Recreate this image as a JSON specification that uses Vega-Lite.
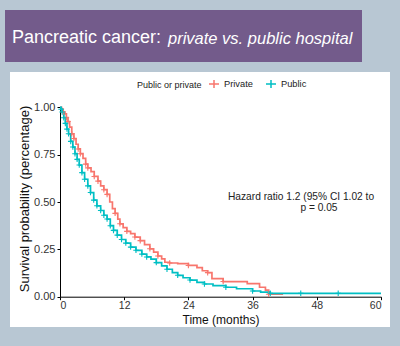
{
  "$schema": "https://vega.github.io/schema/vega-lite/v6.json",
  "background": "#b8c7d3",
  "padding": {"left": 0, "top": 10, "right": 0, "bottom": 9},
  "autosize": {"type": "pad"},
  "title": {"text": "private vs. public hospital", "anchor": "start", "frame": "group", "dx": 163, "offset": -37, "font": "Liberation Sans", "fontSize": 16.5, "fontStyle": "italic", "fontWeight": "normal", "color": "white"},
  "spacing": 0,
  "vconcat": [
    {
      "width": 357,
      "height": 52,
      "view": {"fill": "#735b8b", "stroke": null},
      "title": {"text": "Pancreatic cancer:", "anchor": "start", "frame": "group", "dx": 7, "offset": -37, "font": "Liberation Sans", "fontSize": 18, "fontWeight": "normal", "color": "white"},
      "data": {"values": []},
      "mark": "point"
    },
    {
      "width": 390,
      "height": 265,
      "view": {"fill": "white", "stroke": "#b8c7d3", "strokeWidth": 10},
      "layer": [
        {
          "data": {"name": "km"},
          "mark": {"type": "line", "interpolate": "step-after", "strokeWidth": 1.7},
          "encoding": {
            "x": {"field": "t", "type": "quantitative",
              "scale": {"domain": [0, 60], "range": [55, 376], "nice": false, "zero": false},
              "axis": {"values": [0, 12, 24, 36, 48, 60], "offset": -35.3, "title": "Time (months)", "titleFontSize": 12, "titlePadding": 3, "labelFontSize": 10.5, "labelPadding": 1}},
            "y": {"field": "s", "type": "quantitative",
              "scale": {"domain": [0, 1], "range": [229.7, 40.3], "nice": false, "zero": false},
              "axis": {"values": [0, 0.25, 0.5, 0.75, 1], "format": ".2f", "offset": -55, "title": "Survival probability (percentage)", "titleFontSize": 13, "titlePadding": 2, "titleY": 131.5}},
            "color": {"field": "g", "type": "nominal", "title": "Public or private",
              "scale": {"domain": ["Private", "Public"], "range": ["#F8766D", "#00BFC4"]}}
          }
        },
        {
          "data": {"name": "km"},
          "transform": [{"filter": "datum.c == 1"}],
          "mark": {"type": "point", "shape": "M-1,0L1,0M0,-1L0,1", "filled": false, "size": 30, "strokeWidth": 1.1, "opacity": 1},
          "encoding": {
            "x": {"field": "t", "type": "quantitative"},
            "y": {"field": "s", "type": "quantitative"},
            "color": {"field": "g", "type": "nominal", "title": "Public or private"}
          }
        },
        {
          "data": {"values": [{"label": "Hazard ratio 1.2 (95% CI 1.02 to 1.41)"}]},
          "mark": {"type": "text", "align": "left", "baseline": "alphabetic", "font": "Liberation Sans", "fontSize": 10.2, "fill": "#222", "limit": 153, "ellipsis": " "},
          "encoding": {
            "x": {"datum": 31.4, "type": "quantitative"},
            "y": {"datum": 0.511, "type": "quantitative"},
            "text": {"field": "label", "type": "nominal"}
          }
        },
        {
          "data": {"values": [{"label": "p = 0.05"}]},
          "mark": {"type": "text", "align": "center", "baseline": "alphabetic", "font": "Liberation Sans", "fontSize": 10.2, "fill": "#222"},
          "encoding": {
            "x": {"datum": 48.4, "type": "quantitative"},
            "y": {"datum": 0.45, "type": "quantitative"},
            "text": {"field": "label", "type": "nominal"}
          }
        }
      ]
    }
  ],
  "datasets": {
    "km": [
      {"g": "Private", "t": 0, "s": 1.0, "c": 0},
      {"g": "Private", "t": 0.3, "s": 0.99, "c": 0},
      {"g": "Private", "t": 0.6, "s": 0.975, "c": 1},
      {"g": "Private", "t": 0.9, "s": 0.965, "c": 0},
      {"g": "Private", "t": 1.2, "s": 0.945, "c": 1},
      {"g": "Private", "t": 1.5, "s": 0.925, "c": 1},
      {"g": "Private", "t": 1.8, "s": 0.895, "c": 0},
      {"g": "Private", "t": 2.2, "s": 0.86, "c": 1},
      {"g": "Private", "t": 2.6, "s": 0.835, "c": 1},
      {"g": "Private", "t": 3.0, "s": 0.805, "c": 0},
      {"g": "Private", "t": 3.4, "s": 0.78, "c": 1},
      {"g": "Private", "t": 3.8, "s": 0.755, "c": 1},
      {"g": "Private", "t": 4.3, "s": 0.73, "c": 0},
      {"g": "Private", "t": 4.8, "s": 0.7, "c": 1},
      {"g": "Private", "t": 5.2, "s": 0.68, "c": 1},
      {"g": "Private", "t": 5.8, "s": 0.66, "c": 0},
      {"g": "Private", "t": 6.4, "s": 0.635, "c": 1},
      {"g": "Private", "t": 7.1, "s": 0.61, "c": 1},
      {"g": "Private", "t": 7.6, "s": 0.585, "c": 0},
      {"g": "Private", "t": 8.2, "s": 0.565, "c": 1},
      {"g": "Private", "t": 8.8, "s": 0.54, "c": 1},
      {"g": "Private", "t": 9.3, "s": 0.5, "c": 0},
      {"g": "Private", "t": 9.8, "s": 0.465, "c": 0},
      {"g": "Private", "t": 10.3, "s": 0.44, "c": 1},
      {"g": "Private", "t": 10.8, "s": 0.41, "c": 0},
      {"g": "Private", "t": 11.2, "s": 0.385, "c": 1},
      {"g": "Private", "t": 11.8, "s": 0.365, "c": 0},
      {"g": "Private", "t": 12.5, "s": 0.345, "c": 1},
      {"g": "Private", "t": 13.2, "s": 0.333, "c": 0},
      {"g": "Private", "t": 14.0, "s": 0.315, "c": 1},
      {"g": "Private", "t": 15.0, "s": 0.296, "c": 1},
      {"g": "Private", "t": 15.8, "s": 0.275, "c": 0},
      {"g": "Private", "t": 16.8, "s": 0.253, "c": 1},
      {"g": "Private", "t": 17.5, "s": 0.235, "c": 0},
      {"g": "Private", "t": 18.3, "s": 0.215, "c": 1},
      {"g": "Private", "t": 19.0, "s": 0.2, "c": 0},
      {"g": "Private", "t": 19.6, "s": 0.182, "c": 0},
      {"g": "Private", "t": 20.5, "s": 0.178, "c": 1},
      {"g": "Private", "t": 22.0, "s": 0.175, "c": 0},
      {"g": "Private", "t": 24.0, "s": 0.165, "c": 1},
      {"g": "Private", "t": 25.6, "s": 0.153, "c": 0},
      {"g": "Private", "t": 26.6, "s": 0.137, "c": 0},
      {"g": "Private", "t": 27.6, "s": 0.127, "c": 1},
      {"g": "Private", "t": 28.4, "s": 0.095, "c": 0},
      {"g": "Private", "t": 30.5, "s": 0.08, "c": 1},
      {"g": "Private", "t": 35.0, "s": 0.069, "c": 0},
      {"g": "Private", "t": 37.3, "s": 0.05, "c": 0},
      {"g": "Private", "t": 38.4, "s": 0.035, "c": 0},
      {"g": "Private", "t": 39.0, "s": 0.013, "c": 1},
      {"g": "Private", "t": 41.7, "s": 0.013, "c": 0},
      {"g": "Public", "t": 0, "s": 1.0, "c": 0},
      {"g": "Public", "t": 0.2, "s": 0.99, "c": 1},
      {"g": "Public", "t": 0.4, "s": 0.975, "c": 1},
      {"g": "Public", "t": 0.7, "s": 0.945, "c": 1},
      {"g": "Public", "t": 1.0, "s": 0.915, "c": 1},
      {"g": "Public", "t": 1.3, "s": 0.885, "c": 1},
      {"g": "Public", "t": 1.6, "s": 0.86, "c": 1},
      {"g": "Public", "t": 2.0, "s": 0.82, "c": 1},
      {"g": "Public", "t": 2.4, "s": 0.79, "c": 1},
      {"g": "Public", "t": 2.8, "s": 0.755, "c": 1},
      {"g": "Public", "t": 3.2, "s": 0.725, "c": 1},
      {"g": "Public", "t": 3.6, "s": 0.695, "c": 1},
      {"g": "Public", "t": 4.1, "s": 0.655, "c": 1},
      {"g": "Public", "t": 4.6, "s": 0.62, "c": 1},
      {"g": "Public", "t": 5.2, "s": 0.585, "c": 1},
      {"g": "Public", "t": 5.7, "s": 0.55, "c": 1},
      {"g": "Public", "t": 6.3, "s": 0.51, "c": 1},
      {"g": "Public", "t": 6.9, "s": 0.48, "c": 1},
      {"g": "Public", "t": 7.6, "s": 0.455, "c": 1},
      {"g": "Public", "t": 8.2, "s": 0.43, "c": 1},
      {"g": "Public", "t": 8.8, "s": 0.41, "c": 1},
      {"g": "Public", "t": 9.4, "s": 0.375, "c": 1},
      {"g": "Public", "t": 10.0, "s": 0.35, "c": 1},
      {"g": "Public", "t": 10.7, "s": 0.325, "c": 1},
      {"g": "Public", "t": 11.5, "s": 0.302, "c": 1},
      {"g": "Public", "t": 12.3, "s": 0.283, "c": 1},
      {"g": "Public", "t": 13.2, "s": 0.262, "c": 1},
      {"g": "Public", "t": 14.2, "s": 0.245, "c": 1},
      {"g": "Public", "t": 15.3, "s": 0.225, "c": 1},
      {"g": "Public", "t": 16.2, "s": 0.21, "c": 1},
      {"g": "Public", "t": 17.0, "s": 0.198, "c": 0},
      {"g": "Public", "t": 18.0, "s": 0.18, "c": 1},
      {"g": "Public", "t": 19.0, "s": 0.163, "c": 0},
      {"g": "Public", "t": 20.0, "s": 0.145, "c": 1},
      {"g": "Public", "t": 21.0, "s": 0.127, "c": 0},
      {"g": "Public", "t": 22.0, "s": 0.113, "c": 1},
      {"g": "Public", "t": 23.0, "s": 0.1, "c": 0},
      {"g": "Public", "t": 24.3, "s": 0.088, "c": 1},
      {"g": "Public", "t": 25.6, "s": 0.076, "c": 0},
      {"g": "Public", "t": 27.0, "s": 0.067, "c": 1},
      {"g": "Public", "t": 28.6, "s": 0.058, "c": 0},
      {"g": "Public", "t": 31.0, "s": 0.05, "c": 1},
      {"g": "Public", "t": 33.0, "s": 0.042, "c": 0},
      {"g": "Public", "t": 36.0, "s": 0.03, "c": 1},
      {"g": "Public", "t": 37.5, "s": 0.024, "c": 0},
      {"g": "Public", "t": 39.3, "s": 0.018, "c": 1},
      {"g": "Public", "t": 45.0, "s": 0.018, "c": 1},
      {"g": "Public", "t": 52.0, "s": 0.018, "c": 1},
      {"g": "Public", "t": 60.0, "s": 0.018, "c": 0}
    ]
  },
  "config": {
    "font": "Liberation Sans",
    "axis": {
      "labelFont": "Liberation Sans", "labelFontSize": 11, "labelColor": "#333",
      "titleFont": "Liberation Sans", "titleFontWeight": "normal", "titleColor": "#111",
      "domainColor": "#000", "tickColor": "#000", "tickSize": 3, "labelPadding": 2, "grid": false
    },
    "legend": {
      "orient": "none", "legendX": 132, "legendY": 68, "direction": "horizontal",
      "titleOrient": "left", "titleFont": "Liberation Sans", "titleFontSize": 9, "titleFontWeight": "normal", "titleColor": "#222",
      "labelFont": "Liberation Sans", "labelFontSize": 9.3, "labelColor": "#222",
      "symbolType": "M-1,0L1,0M0,-0.8L0,0.8", "symbolSize": 100, "symbolStrokeWidth": 1.5,
      "titlePadding": 6, "columnPadding": 10, "labelOffset": 4
    }
  }
}
